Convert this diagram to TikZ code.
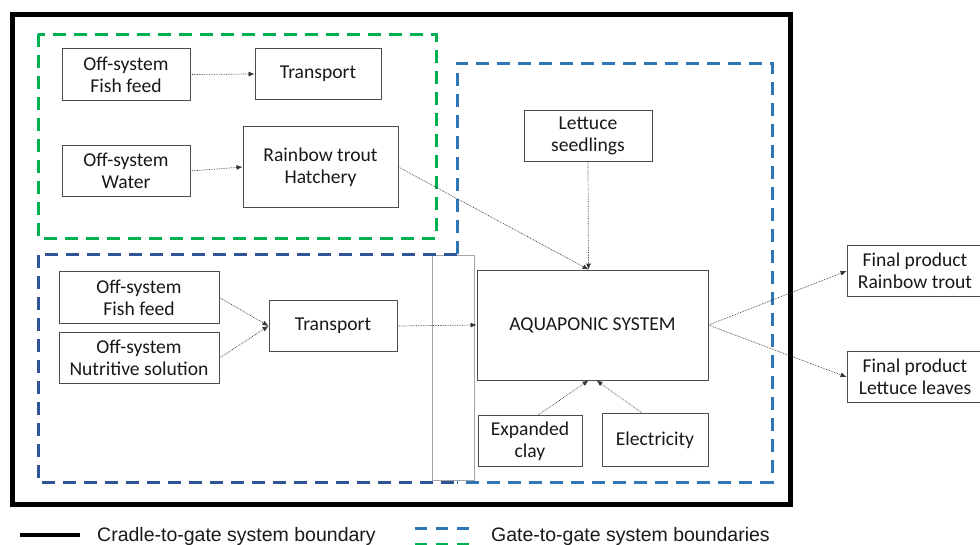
\documentclass[tikz,border=0pt]{standalone}
\usepackage{fontspec}
\setmainfont{Carlito}
\newfontfamily\legendfont{Liberation Sans}
\usetikzlibrary{arrows.meta,calc}
\definecolor{bgreen}{HTML}{00B050}
\definecolor{blight}{HTML}{2E75B6}
\definecolor{bdark}{HTML}{2F5597}
\begin{document}
\begin{tikzpicture}[x=1pt,y=-1pt,
  box/.style={draw=black!70,line width=0.9pt,fill=white,align=center,inner sep=0pt,
    font=\fontsize{19.6}{22}\selectfont,text=black!90},
  flow/.style={densely dotted,line width=0.7pt,draw=black!80,-{Latex[length=6pt,width=5pt]}},
  bound/.style={line width=3pt,dash pattern=on 13pt off 8pt},
  legtext/.style={font=\legendfont\fontsize{19.5}{22}\selectfont,anchor=base west,inner sep=0pt,text=black!90}]
\useasboundingbox (0,0) rectangle (980,544);

% cradle-to-gate boundary
\draw[line width=5pt] (12,14) rectangle (790,504);
% gate-to-gate boundaries
\draw[bound,draw=bgreen] (38,34) rectangle (436,238);
\draw[line width=0.8pt,draw=black!35,fill=white] (432,255) rectangle (474,480);
\draw[bound,draw=bdark] (457,254) -- (38,254) -- (38,482) -- (457,482);
\draw[bound,draw=blight] (457,254) -- (457,63) -- (772,63) -- (772,482) -- (457,482);

% nodes
\node[box,minimum width=128pt,minimum height=52pt] (ff1) at (126,74.5) {Off-system\\Fish feed};
\node[box,minimum width=126pt,minimum height=51pt] (tr1) at (318,74) {Transport};
\node[box,minimum width=128pt,minimum height=51pt] (wat) at (126,171) {Off-system\\Water};
\node[box,minimum width=155pt,minimum height=81pt] (hat) at (320.5,167) {Rainbow trout\\Hatchery};
\node[box,minimum width=128pt,minimum height=51pt] (let) at (588,136) {Lettuce\\seedlings};
\node[box,minimum width=231pt,minimum height=110pt] (aqu) at (592.5,325) {AQUAPONIC SYSTEM};
\node[box,minimum width=104pt,minimum height=51pt] (clay) at (530,441) {Expanded\\clay};
\node[box,minimum width=106pt,minimum height=53pt] (elec) at (655,440) {Electricity};
\node[box,minimum width=160pt,minimum height=52pt] (ff2) at (139,297.5) {Off-system\\Fish feed};
\node[box,minimum width=160pt,minimum height=51pt] (nut) at (139,358) {Off-system\\Nutritive solution};
\node[box,minimum width=128pt,minimum height=51pt] (tr2) at (333,326) {Transport};
\node[box,minimum width=136pt,minimum height=51pt] (fin1) at (915,271) {Final product\\Rainbow trout};
\node[box,minimum width=136pt,minimum height=51pt] (fin2) at (915,377) {Final product\\Lettuce leaves};

% flows
\draw[flow] (ff1.east) -- (tr1.west);
\draw[flow] (wat.east) -- (hat.west);
\draw[flow] (hat.east) -- ($(aqu.north)+(-4,0)$);
\draw[flow] (let.south) -- ($(aqu.north)+(-4,0)$);
\draw[flow] (ff2.east) -- (tr2.west);
\draw[flow] (nut.east) -- (tr2.west);
\draw[flow] (tr2.east) -- (aqu.west);
\draw[flow] ($(clay.north)+(8,0)$) -- ($(aqu.south)+(-4,0)$);
\draw[flow] ($(elec.north)+(-13,0)$) -- ($(aqu.south)+(4,0)$);
\draw[flow] (aqu.east) -- (fin1.west);
\draw[flow] (aqu.east) -- (fin2.west);

% legend
\coordinate (l1a) at (20,535);
\coordinate (l1b) at (80,535);
\draw[line width=4.5pt] (l1a) -- (l1b);
\node[legtext] (lt1) at (97,541) {Cradle-to-gate system boundary};
\coordinate (l2a) at (415,528);
\coordinate (l2b) at (471,528);
\coordinate (l3a) at (415,544);
\coordinate (l3b) at (471,544);
\draw[line width=3pt,dash pattern=on 12pt off 9pt,draw=blight] (l2a) -- (l2b);
\draw[line width=3pt,dash pattern=on 12pt off 9pt,draw=bgreen] (l3a) -- (l3b);
\node[legtext] (lt2) at (491,541) {Gate-to-gate system boundaries};
\end{tikzpicture}
\end{document}
